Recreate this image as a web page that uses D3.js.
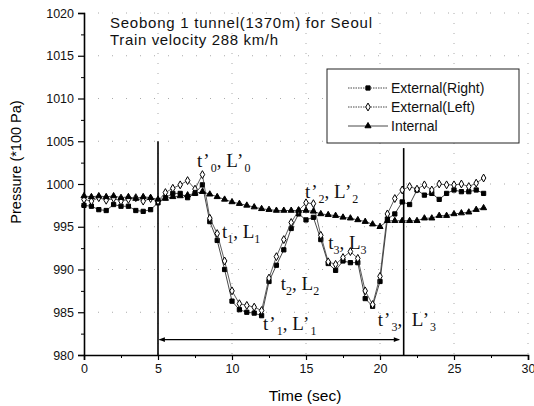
<!DOCTYPE html>
<html><head><meta charset="utf-8">
<script src="https://cdn.jsdelivr.net/npm/d3@7"></script>
<style>
body{margin:0;background:#fff;}
svg{display:block;}
.tick text{font-family:Arial, "Liberation Sans", sans-serif;font-size:12.5px;fill:#111;}
</style></head>
<body>
<svg id="c" width="534" height="406"></svg>
<script>
// ---- data ----
const time = d3.range(0, 27.01, 0.5);
const externalRight = [997.5,997.4,997.0,996.9,997.6,997.4,997.4,996.9,996.8,997.0,
  997.8,998.4,998.9,998.9,998.4,998.9,999.9,995.6,993.4,990.0,
  986.3,985.3,985.0,984.9,984.6,988.6,990.5,992.3,994.8,996.5,
  995.8,996.1,993.5,990.7,989.9,991.0,990.8,990.8,986.6,985.7,
  988.6,995.9,996.5,997.9,997.6,999.3,998.7,998.9,998.2,998.9,
  999.3,999.1,999.1,999.3,998.9];
const externalLeft = [998.2,998.0,998.4,998.1,998.3,998.0,998.2,998.4,998.0,998.3,
  998.0,999.0,999.5,999.9,1000.4,999.4,1001.1,996.0,994.2,991.0,
  987.5,986.0,985.8,985.6,985.2,989.0,991.5,993.5,995.5,996.9,
  997.8,997.7,994.0,990.9,990.6,991.4,992.1,991.3,987.5,985.9,
  989.2,996.5,998.3,999.3,999.7,999.4,999.9,999.3,1000.0,999.9,
  999.9,1000.0,999.7,1000.1,1000.7];
const internal = [998.6,998.5,998.6,998.5,998.6,998.4,998.5,998.3,998.5,998.4,
  998.2,998.3,998.5,998.6,998.7,998.9,999.1,998.8,998.5,998.2,
  997.9,997.7,997.5,997.3,997.1,997.0,996.9,996.9,996.9,996.9,
  996.9,996.8,996.5,996.4,996.3,996.1,996.0,995.8,995.6,995.3,
  995.0,995.7,995.7,995.7,995.7,995.7,996.0,996.0,996.3,996.3,
  996.5,996.6,996.7,997.0,997.2];
const seriesNames = ["External(Right)","External(Left)","Internal"];
const xTicks = [0,5,10,15,20,25,30];
const yTicks = [980,985,990,995,1000,1005,1010,1015,1020];
const markerLines = [{t:5, top:1005}, {t:21.6, top:1004.2}];
const spanArrow = {from:5.1, to:21.3, p:981.8};
const titleLines = ["Seobong 1 tunnel(1370m) for Seoul","Train velocity 288 km/h"];
// annotation labels: [letter, subscript, primed]
const annotations = [
  {t:7.64, p:1002.0, parts:[["t",0,true],["L",0,true]]},
  {t:9.32, p:993.7, parts:[["t",1,false],["L",1,false]]},
  {t:14.93, p:998.4, parts:[["t",2,true],["L",2,true]]},
  {t:16.5, p:992.4, parts:[["t",3,false],["L",3,false]]},
  {t:13.3, p:987.6, parts:[["t",2,false],["L",2,false]]},
  {t:12.1, p:982.9, parts:[["t",1,true],["L",1,true]]},
  {t:19.85, p:983.4, parts:[["t",3,true]], comma:true},
  {t:22.15, p:983.4, parts:[["L",3,true]]}
];

// ---- layout ----
const svg = d3.select("#c");
const m = {l:84, r:528, t:13, b:355};
const x = d3.scaleLinear().domain([0,30]).range([m.l, m.r]);
const y = d3.scaleLinear().domain([980,1020]).range([m.b, m.t]);

// grid
const g = svg.append("g");
g.selectAll(".gx").data(xTicks.slice(1)).join("line")
  .attr("x1", d=>x(d)).attr("x2", d=>x(d)).attr("y1", m.t).attr("y2", m.b)
  .attr("stroke","#aaa").attr("stroke-width",1).attr("stroke-dasharray","1,9");
g.selectAll(".gy").data(yTicks.slice(1)).join("line")
  .attr("x1", m.l).attr("x2", m.r).attr("y1", d=>y(d)).attr("y2", d=>y(d))
  .attr("stroke","#aaa").attr("stroke-width",1).attr("stroke-dasharray","1,13");

// axes
const xAxis = d3.axisBottom(x).tickValues(xTicks).tickSize(5).tickPadding(4).tickFormat(d3.format("d"));
const yAxis = d3.axisLeft(y).tickValues(yTicks).tickSize(6).tickPadding(4).tickFormat(d3.format("d"));
const gx = svg.append("g").attr("transform",`translate(0,${m.b})`).call(xAxis);
const gy = svg.append("g").attr("transform",`translate(${m.l},0)`).call(yAxis);
[gx,gy].forEach(a=>{a.select(".domain").attr("stroke","#000").attr("stroke-width",1.6);
  a.selectAll(".tick line").attr("stroke","#000").attr("stroke-width",1.2);});
// minor ticks
svg.append("g").attr("transform",`translate(0,${m.b})`)
  .call(d3.axisBottom(x).tickValues(d3.range(2.5,30,5)).tickSize(3).tickFormat(""))
  .call(a=>{a.select(".domain").remove();a.selectAll("line").attr("stroke","#000");});
svg.append("g").attr("transform",`translate(${m.l},0)`)
  .call(d3.axisLeft(y).tickValues(d3.range(982.5,1020,5)).tickSize(3).tickFormat(""))
  .call(a=>{a.select(".domain").remove();a.selectAll("line").attr("stroke","#000");});

// axis titles
svg.append("text").attr("x", 305).attr("y", 401).attr("text-anchor","middle")
  .attr("font-family","Arial, 'Liberation Sans', sans-serif").attr("font-size",15.5).text("Time (sec)");
svg.append("text").attr("transform","translate(21,162) rotate(-90)").attr("text-anchor","middle")
  .attr("font-family","Arial, 'Liberation Sans', sans-serif").attr("font-size",14.5).text("Pressure (*100 Pa)");

// title
const titleW = [262, 168];
svg.selectAll(".ttl").data(titleLines).join("text")
  .attr("x",110).attr("y",(d,i)=>28+i*17)
  .attr("font-family","Arial, 'Liberation Sans', sans-serif").attr("font-size",15).attr("fill","#111")
  .attr("textLength",(d,i)=>titleW[i]).attr("lengthAdjust","spacing")
  .text(d=>d);

// vertical event lines
svg.selectAll(".vl").data(markerLines).join("line")
  .attr("x1",d=>x(d.t)).attr("x2",d=>x(d.t)).attr("y1",d=>y(d.top)).attr("y2",y(980))
  .attr("stroke","#000").attr("stroke-width",1.6);

// arrow
const defs = svg.append("defs");
defs.append("marker").attr("id","ah").attr("viewBox","0 0 10 10").attr("refX",9).attr("refY",5)
  .attr("markerWidth",7).attr("markerHeight",5).attr("orient","auto-start-reverse")
  .append("path").attr("d","M0,1 L10,5 L0,9 z").attr("fill","#000");
svg.append("line").attr("x1",x(spanArrow.from)).attr("x2",x(spanArrow.to))
  .attr("y1",y(spanArrow.p)).attr("y2",y(spanArrow.p))
  .attr("stroke","#000").attr("stroke-width",1.2)
  .attr("marker-start","url(#ah)").attr("marker-end","url(#ah)");

// series
const series = [
  {name:seriesNames[0], vals:externalRight, sym:d3.symbolSquare, size:18, fill:"#000", sw:0.9},
  {name:seriesNames[1], vals:externalLeft, sym:d3.symbolDiamond, size:18, fill:"#fff", sw:0.8},
  {name:seriesNames[2], vals:internal, sym:d3.symbolTriangle, size:16, fill:"#000", sw:0.9}
];
const line = d3.line().x(d=>x(d[0])).y(d=>y(d[1]));
series.forEach(s=>{
  const pts = time.map((t,i)=>[t, s.vals[i]]);
  svg.append("path").datum(pts).attr("d",line).attr("fill","none")
    .attr("stroke","#333").attr("stroke-width",s.sw);
  svg.append("g").selectAll("path").data(pts).join("path")
    .attr("transform",d=>`translate(${x(d[0])},${y(d[1])})`)
    .attr("d",d3.symbol().type(s.sym).size(s.size))
    .attr("fill",s.fill).attr("stroke","#000").attr("stroke-width",1);
});

// annotations
annotations.forEach(a=>{
  const t = svg.append("text").attr("x",x(a.t)).attr("y",y(a.p))
    .attr("font-family","'Liberation Serif','Times New Roman',serif").attr("font-size",19).attr("fill","#111");
  a.parts.forEach((p,i)=>{
    if(i>0) t.append("tspan").attr("dy",-5).text(", ");
    t.append("tspan").text(p[0]);
    if(p[2]) t.append("tspan").attr("dx",1).text("\u2019");
    t.append("tspan").attr("dy",5).attr("dx",p[2]?1:0).attr("font-size",12).text(p[1]);
  });
  if(a.comma) t.append("tspan").attr("dy",-5).text(",");
});

// legend
const lg = svg.append("g");
lg.append("rect").attr("x",327).attr("y",69).attr("width",192).attr("height",74)
  .attr("fill","#fff").attr("stroke","#222").attr("stroke-width",1);
series.forEach((s,i)=>{
  const yy = 88 + i*19;
  lg.append("line").attr("x1",348).attr("x2",388).attr("y1",yy).attr("y2",yy)
    .attr("stroke","#333").attr("stroke-width",0.9).attr("stroke-dasharray", i<2?"1.5,1":null);
  lg.append("path").attr("transform",`translate(368,${yy})`)
    .attr("d",d3.symbol().type(s.sym).size(s.size)).attr("fill",s.fill).attr("stroke","#000");
  lg.append("text").attr("x",391).attr("y",yy+5)
    .attr("font-family","Arial, 'Liberation Sans', sans-serif").attr("font-size",14).attr("fill","#111")
    .text(s.name);
});
</script>
</body></html>
